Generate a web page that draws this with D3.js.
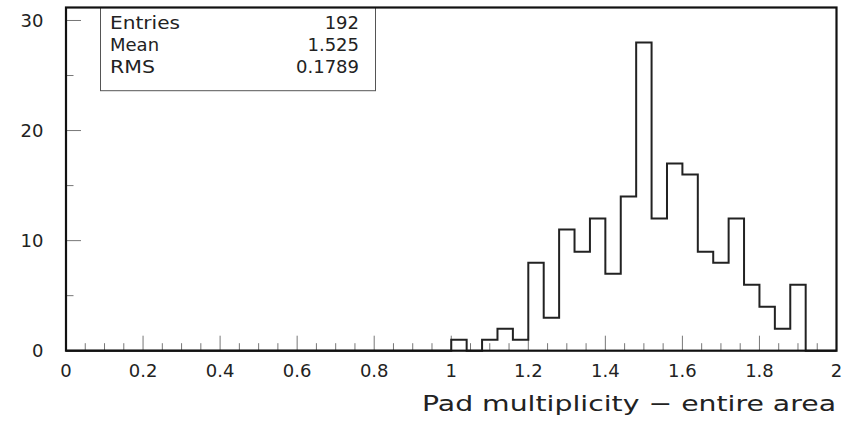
<!DOCTYPE html>
<html>
<head>
<meta charset="utf-8">
<script src="https://cdn.jsdelivr.net/npm/d3@7/dist/d3.min.js"></script>
<style>
  html, body { margin: 0; padding: 0; background: #fff; }
  svg { display: block; }
  text { font-family: "DejaVu Sans", sans-serif; fill: #222; }
</style>
</head>
<body>
<svg id="chart" width="858" height="429"></svg>
<script>
// Histogram: pad multiplicity over the entire area, bin width 0.04
const binWidth = 0.04;
const binLow = [1.00, 1.04, 1.08, 1.12, 1.16, 1.20, 1.24, 1.28, 1.32, 1.36, 1.40, 1.44,
                1.48, 1.52, 1.56, 1.60, 1.64, 1.68, 1.72, 1.76, 1.80, 1.84, 1.88];
const counts = [1, 0, 1, 2, 1, 8, 3, 11, 9, 12, 7, 14,
                28, 12, 17, 16, 9, 8, 12, 6, 4, 2, 6];

const xTickLabels = ["0", "0.2", "0.4", "0.6", "0.8", "1", "1.2", "1.4", "1.6", "1.8", "2"];
const xTickValues = [0, 0.2, 0.4, 0.6, 0.8, 1, 1.2, 1.4, 1.6, 1.8, 2];
const yTickValues = [0, 10, 20, 30];
const yTickLabels = ["0", "10", "20", "30"];

const statNames = ["Entries", "Mean", "RMS"];
const statValues = ["192", "1.525", "0.1789"];

const xTitle = "Pad multiplicity \u2212 entire area";

const svg = d3.select("#chart");
const frame = { left: 66, right: 836.5, top: 7.5, bottom: 350.7 };

const x = d3.scaleLinear().domain([0, 2]).range([frame.left, frame.right]);
const y = d3.scaleLinear().domain([0, 31.18]).range([frame.bottom, frame.top]);

// Minor and major ticks on the x axis
const xMinor = d3.range(0, 2.0001, 0.05).filter(v => Math.abs(v / 0.2 - Math.round(v / 0.2)) > 1e-6);
svg.append("g").selectAll("line").data(xMinor).join("line")
  .attr("x1", d => x(d)).attr("x2", d => x(d))
  .attr("y1", frame.bottom).attr("y2", frame.bottom - 7.5)
  .attr("stroke", "#777").attr("stroke-width", 1);
svg.append("g").selectAll("line").data(xTickValues).join("line")
  .attr("x1", d => x(d)).attr("x2", d => x(d))
  .attr("y1", frame.bottom).attr("y2", frame.bottom - 15)
  .attr("stroke", "#777").attr("stroke-width", 1);

// y axis ticks: majors every 10, minors every 5
const yMinor = [5, 15, 25];
svg.append("g").selectAll("line").data(yMinor).join("line")
  .attr("x1", frame.left).attr("x2", frame.left + 7.5)
  .attr("y1", d => y(d)).attr("y2", d => y(d))
  .attr("stroke", "#777").attr("stroke-width", 1);
svg.append("g").selectAll("line").data(yTickValues).join("line")
  .attr("x1", frame.left).attr("x2", frame.left + 15)
  .attr("y1", d => y(d)).attr("y2", d => y(d))
  .attr("stroke", "#777").attr("stroke-width", 1);

// Tick labels
svg.append("g").selectAll("text").data(xTickValues).join("text")
  .attr("x", d => x(d)).attr("y", 376.5)
  .attr("text-anchor", "middle")
  .style("font-size", "18px")
  .text((d, i) => xTickLabels[i]);
svg.append("g").selectAll("text").data(yTickValues).join("text")
  .attr("x", 43.5).attr("y", d => y(d) + 6.6)
  .attr("text-anchor", "end")
  .style("font-size", "18px")
  .text((d, i) => yTickLabels[i]);

// Axis title, set in a wide face
svg.append("text")
  .attr("x", 422).attr("y", 410.5)
  .attr("textLength", 414)
  .attr("lengthAdjust", "spacingAndGlyphs")
  .style("font-size", "22px")
  .text(xTitle);

// Histogram outline as a step line
let pts = [[x(0), y(0)], [x(binLow[0]), y(0)]];
binLow.forEach((lo, i) => {
  pts.push([x(lo), y(counts[i])]);
  pts.push([x(lo + binWidth), y(counts[i])]);
});
pts.push([x(binLow[binLow.length - 1] + binWidth), y(0)]);
pts.push([x(2), y(0)]);
svg.append("path")
  .attr("d", d3.line()(pts))
  .attr("fill", "none")
  .attr("stroke", "#222")
  .attr("stroke-width", 2)
  .attr("stroke-linejoin", "miter");

// Statistics box
const box = { x0: 100.5, x1: 375.5, y0: frame.top, y1: 90.7 };
svg.append("rect")
  .attr("x", box.x0).attr("y", box.y0)
  .attr("width", box.x1 - box.x0).attr("height", box.y1 - box.y0)
  .attr("fill", "#fff").attr("stroke", "#555").attr("stroke-width", 1);
const rowY = [29.2, 51.2, 73.2];
const nameWidths = [70, null, 45];
svg.append("g").selectAll("text").data(statNames).join("text")
  .attr("x", 110).attr("y", (d, i) => rowY[i])
  .attr("textLength", (d, i) => nameWidths[i])
  .attr("lengthAdjust", (d, i) => nameWidths[i] ? "spacingAndGlyphs" : null)
  .style("font-size", "18px")
  .text(d => d);
svg.append("g").selectAll("text").data(statValues).join("text")
  .attr("x", 359).attr("y", (d, i) => rowY[i])
  .attr("text-anchor", "end")
  .style("font-size", "18px")
  .text(d => d);

// Frame
svg.append("rect")
  .attr("x", frame.left).attr("y", frame.top)
  .attr("width", frame.right - frame.left).attr("height", frame.bottom - frame.top)
  .attr("fill", "none").attr("stroke", "#111").attr("stroke-width", 2.2);
</script>
</body>
</html>
